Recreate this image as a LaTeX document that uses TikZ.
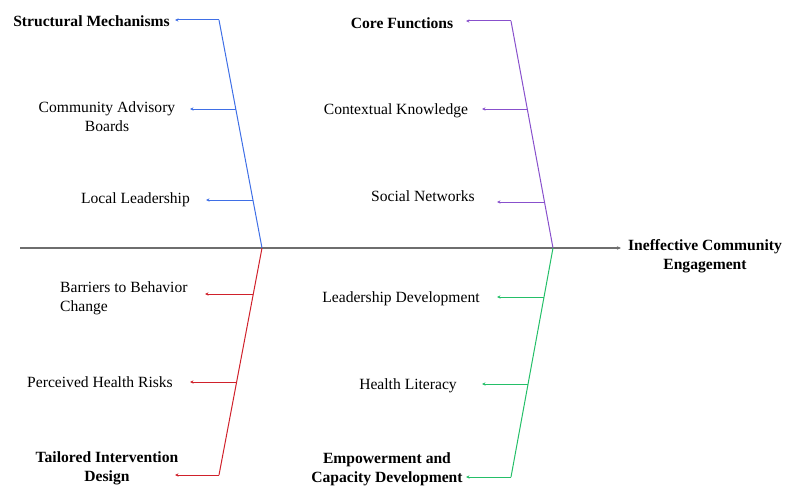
\documentclass[tikz,border=0pt]{standalone}
\usepackage{fontspec}
\setmainfont{Liberation Serif}
\usetikzlibrary{arrows.meta}
\definecolor{boneblue}{HTML}{3F6FE6}
\definecolor{bonepurple}{HTML}{8850CC}
\definecolor{bonered}{HTML}{D0212B}
\definecolor{bonegreen}{HTML}{24BF68}
\definecolor{spinegray}{HTML}{6E6E6E}
\tikzset{
  lbl/.style={inner sep=0pt, yshift=-1.5pt, font=\fontsize{15.6}{18.8}\selectfont, align=center},
  cat/.style={lbl, font=\fontsize{15.6}{18.8}\selectfont\bfseries},
  bone/.style={line width=1pt},
  rib/.style={line width=1pt, -{Stealth[length=3.5pt,width=3.2pt]}},
  spine/.style={line width=1.8pt, spinegray, -{Stealth[length=4pt,width=3.5pt]}}
}
\begin{document}
\begin{tikzpicture}[x=1pt,y=-1pt]
\useasboundingbox (0,0) rectangle (787,487);

% spine and effect
\coordinate (s0) at (20,248);
\coordinate (s1) at (621,248);
\coordinate (jl) at (262,248);
\coordinate (jr) at (553,248);
\draw[spine] (s0) -- (s1);
\node[cat] (effect) at (705,255) {Ineffective Community\\Engagement};

% structural mechanisms (blue, upper left)
\coordinate (bt) at (219,20);
\coordinate (bb1) at (235.8,109);
\coordinate (bb2) at (252.9,200);
\coordinate (ba0) at (175,20);
\coordinate (ba1) at (190,109);
\coordinate (ba2) at (206,200);
\draw[bone, boneblue] (jl) -- (bt);
\draw[rib, boneblue] (bt) -- (ba0);
\draw[rib, boneblue] (bb1) -- (ba1);
\draw[rib, boneblue] (bb2) -- (ba2);
\node[cat] (sm) at (91.5,20) {Structural Mechanisms};
\node[lbl] (cab) at (107,115) {Community Advisory\\Boards};
\node[lbl] (ll) at (135.5,198) {Local Leadership};

% core functions (purple, upper right)
\coordinate (pt) at (511,21);
\coordinate (pb1) at (527.3,109);
\coordinate (pb2) at (544.5,202);
\coordinate (pa0) at (466,21);
\coordinate (pa1) at (482,109);
\coordinate (pa2) at (497,202);
\draw[bone, bonepurple] (jr) -- (pt);
\draw[rib, bonepurple] (pt) -- (pa0);
\draw[rib, bonepurple] (pb1) -- (pa1);
\draw[rib, bonepurple] (pb2) -- (pa2);
\node[cat] (cf) at (402,22) {Core Functions};
\node[lbl] (ck) at (396,109) {Contextual Knowledge};
\node[lbl] (sn) at (423,195) {Social Networks};

% tailored intervention design (red, lower left)
\coordinate (rt) at (219,475);
\coordinate (rb1) at (253.3,294);
\coordinate (rb2) at (236.6,382);
\coordinate (ra0) at (175,475);
\coordinate (ra1) at (205,294);
\coordinate (ra2) at (190,382);
\draw[bone, bonered] (jl) -- (rt);
\draw[rib, bonered] (rt) -- (ra0);
\draw[rib, bonered] (rb1) -- (ra1);
\draw[rib, bonered] (rb2) -- (ra2);
\node[cat] (tid) at (107,467) {Tailored Intervention\\Design};
\node[lbl, anchor=west, align=left] (bbc) at (60,297) {Barriers to Behavior\\Change};
\node[lbl] (phr) at (100,381) {Perceived Health Risks};

% empowerment and capacity development (green, lower right)
\coordinate (gt) at (511,477);
\coordinate (gb1) at (544.4,297);
\coordinate (gb2) at (528.3,384);
\coordinate (ga0) at (466,477);
\coordinate (ga1) at (497,297);
\coordinate (ga2) at (482,384);
\draw[bone, bonegreen] (jr) -- (gt);
\draw[rib, bonegreen] (gt) -- (ga0);
\draw[rib, bonegreen] (gb1) -- (ga1);
\draw[rib, bonegreen] (gb2) -- (ga2);
\node[cat] (ecd) at (387,468) {Empowerment and\\Capacity Development};
\node[lbl] (ld) at (401,297) {Leadership Development};
\node[lbl] (hl) at (408,384) {Health Literacy};
\end{tikzpicture}
\end{document}
